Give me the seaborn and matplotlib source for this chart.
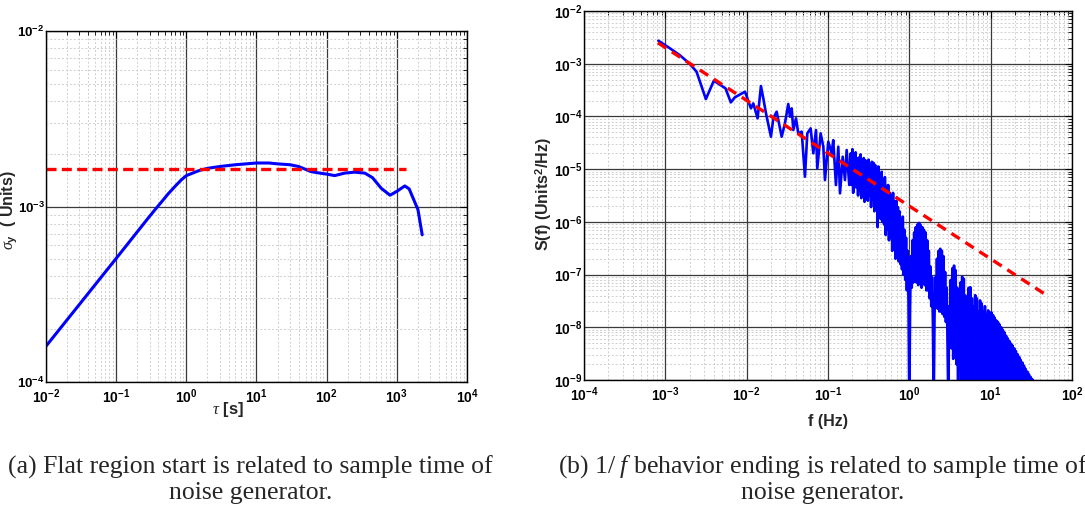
import numpy as np
import matplotlib
matplotlib.use("Agg")
import matplotlib.pyplot as plt
import seaborn as sns
from matplotlib.ticker import LogLocator, LogFormatterSciNotation, NullFormatter

# ---------------- data: panel (a) Allan deviation ----------------
tau_s = [0.01, 0.1, 0.3, 0.37, 0.45, 0.55, 0.7, 0.85, 1.0, 1.5, 2, 3, 5, 10, 15, 20,
         30, 40, 60, 80, 100, 130, 180, 250, 350, 450, 600, 800, 1000, 1300, 1500,
         2000, 2300]
sigma_y = [1.6e-4, 5.06e-4, 8.8e-4, 9.75e-4, 1.07e-3, 1.18e-3, 1.31e-3, 1.42e-3,
           1.50e-3, 1.60e-3, 1.65e-3, 1.69e-3, 1.73e-3, 1.77e-3, 1.77e-3, 1.75e-3,
           1.73e-3, 1.69e-3, 1.58e-3, 1.55e-3, 1.53e-3, 1.50e-3, 1.55e-3, 1.57e-3,
           1.55e-3, 1.46e-3, 1.27e-3, 1.16e-3, 1.22e-3, 1.31e-3, 1.26e-3, 9.6e-4, 6.9e-4]
flat_tau = [0.01, 1360]
flat_sigma = [1.63e-3, 1.63e-3]

# ---------------- data: panel (b) power spectral density ----------------
# low-frequency part: (log10 f, log10 S)
logf_low = [-3.086, -2.95, -2.82, -2.70, -2.616, -2.501, -2.403, -2.260, -2.194,
            -2.145, -2.041, -2.020, -1.947, -1.918, -1.865, -1.824, -1.795, -1.762,
            -1.701, -1.672, -1.631, -1.569, -1.529, -1.488, -1.467, -1.446, -1.426,
            -1.393, -1.365, -1.323, -1.283, -1.254, -1.213, -1.180, -1.147, -1.131,
            -1.090, -1.057, -1.037, -0.996, -0.955, -0.935, -0.902, -0.873, -0.852,
            -0.819, -0.791, -0.770, -0.738]
logS_low = [-2.563, -2.70, -2.84, -3.00, -3.151, -3.670, -3.322, -3.467, -3.733,
            -3.638, -3.550, -3.531, -3.847, -3.752, -4.036, -3.423, -3.657, -3.941,
            -4.384, -4.036, -3.910, -4.384, -4.131, -3.764, -4.005, -3.847, -4.258,
            -4.036, -4.321, -4.289, -5.143, -4.321, -4.226, -4.700, -4.258, -4.985,
            -4.321, -4.574, -5.206, -4.479, -4.700, -4.450, -5.301, -4.574, -5.459,
            -4.764, -5.206, -4.637, -5.301]
# dense part: log10 S read every 0.01 decade from log10 f = -0.72 to 1.53
logf_dense_start, logf_dense_stop = -0.72, 1.53
logS_dense = [
    -4.70, -5.30, -4.62, -5.45, -4.75, -5.20, -4.68, -5.35, -4.80, -5.50,
    -4.78, -5.40, -4.72, -5.55, -4.85, -5.35, -4.79, -5.62, -4.83, -5.45,
    -4.90, -5.60, -4.82, -5.50, -4.95, -5.72, -4.86, -5.58, -4.88, -5.80,
    -4.92, -5.75, -5.00, -6.10, -4.95, -5.85, -5.10, -5.95, -5.05, -6.00,
    -5.20, -6.05, -5.15, -6.25, -5.32, -6.15, -5.30, -6.35, -5.45, -6.30,
    -5.50, -6.55, -5.45, -6.45, -5.62, -6.70, -5.60, -6.60, -5.72, -6.75,
    -5.80, -6.80, -5.95, -6.90, -5.90, -7.00, -6.15, -7.10, -6.30, -7.30,
    -6.55, -7.50, -9.50, -7.60, -6.65, -7.25, -6.35, -7.15, -6.20, -7.10,
    -6.10, -7.15, -6.05, -7.20, -6.02, -7.10, -6.06, -7.25, -6.10, -7.15,
    -6.15, -7.20, -6.20, -7.30, -6.35, -7.30, -6.55, -7.45, -6.85, -7.60,
    -7.05, -7.90, -9.50, -7.80, -7.05, -7.60, -6.70, -7.65, -6.55, -7.70,
    -6.51, -7.70, -6.55, -7.75, -6.65, -7.80, -6.95, -7.90, -7.25, -8.30,
    -9.50, -7.60, -8.30, -7.10, -8.40, -6.88, -8.60, -6.83, -8.50, -6.92,
    -8.70, -7.25, -9.50, -7.80, -8.50, -7.15, -9.00, -7.04, -8.80, -7.08,
    -9.20, -7.40, -9.50, -7.55, -9.00, -7.25, -9.30, -7.24, -9.10, -7.45,
    -9.50, -7.60, -9.20, -7.39, -9.40, -7.45, -9.50, -7.70, -9.30, -7.49,
    -9.50, -7.55, -9.50, -7.70, -9.40, -7.60, -9.50, -7.75, -9.50, -7.68,
    -9.50, -7.72, -9.50, -7.72, -9.50, -7.77, -9.50, -7.82, -9.50, -7.87,
    -9.50, -7.90, -9.50, -7.95, -9.50, -8.00, -9.50, -8.05, -9.50, -8.10,
    -9.50, -8.16, -9.50, -8.21, -9.50, -8.26, -9.50, -8.31, -9.50, -8.35,
    -9.50, -8.40, -9.50, -8.45, -9.50, -8.51, -9.50, -8.56, -9.50, -8.62,
    -9.50, -8.67, -9.50, -8.73, -9.50, -8.79, -9.50, -8.84, -9.50, -8.89,
    -9.50, -8.94, -9.50, -8.98, -9.50, -9.02,
]
ref_f = [8.1e-4, 45.0]
ref_S = [2.5e-3, 4.4e-8]

caption_a = ["(a) Flat region start is related to sample time of", "noise generator."]
caption_b = [r"(b) $\mathdefault{1/}\;f$ behavior ending is related to sample time of",
             "noise generator."]

# ---------------- assemble ----------------
logf_dense = np.linspace(logf_dense_start, logf_dense_stop, len(logS_dense))
f_all = np.concatenate([10 ** np.array(logf_low), 10 ** logf_dense])
S_all = np.concatenate([10 ** np.array(logS_low), 10 ** np.array(logS_dense)])

sns.set_style("white")
SANS = ["Liberation Sans Narrow", "Liberation Sans", "DejaVu Sans"]
plt.rcParams["font.family"] = SANS
plt.rcParams["font.weight"] = "bold"
plt.rcParams["axes.unicode_minus"] = False
plt.rcParams["mathtext.fontset"] = "custom"
plt.rcParams["mathtext.rm"] = "Liberation Serif:weight=normal"
plt.rcParams["mathtext.it"] = "Liberation Serif:style=italic:weight=normal"
plt.rcParams["mathtext.bf"] = "Liberation Serif:weight=bold"

fig = plt.figure(figsize=(10.85, 5.12), dpi=100)
ax1 = fig.add_axes([0.0424, 0.2539, 0.3880, 0.6855])
ax2 = fig.add_axes([0.5382, 0.2578, 0.4498, 0.7207])

sns.lineplot(x=tau_s, y=sigma_y, ax=ax1, color="#0000ff", lw=2.2, sort=False, estimator=None)
sns.lineplot(x=flat_tau, y=flat_sigma, ax=ax1, color="#ff0000", lw=2.4, sort=False, estimator=None)
ax1.lines[-1].set_dashes([3.0, 1.6])

sns.lineplot(x=f_all, y=S_all, ax=ax2, color="#0000ff", lw=1.9, sort=False, estimator=None)
sns.lineplot(x=ref_f, y=ref_S, ax=ax2, color="#ff0000", lw=2.4, sort=False, estimator=None)
ax2.lines[-1].set_dashes([3.0, 2.0])


def style(ax, xlim, ylim, ylabelsize):
    ax.set_xscale("log")
    ax.set_yscale("log")
    ax.set_xlim(*xlim)
    ax.set_ylim(*ylim)
    for axis in (ax.xaxis, ax.yaxis):
        axis.set_major_locator(LogLocator(base=10, numticks=20))
        axis.set_minor_locator(LogLocator(base=10, subs=np.arange(2, 10), numticks=50))
        axis.set_major_formatter(LogFormatterSciNotation())
        axis.set_minor_formatter(NullFormatter())
    ax.grid(True, which="major", color="#3a3a3a", lw=0.9, ls="-")
    ax.grid(True, which="minor", color="#cfcfcf", lw=0.7, ls=(0, (2, 2)))
    ax.set_axisbelow(True)
    ax.tick_params(which="both", direction="in", top=True, right=True,
                   labelsize=10, colors="black")
    ax.tick_params(axis="y", labelsize=ylabelsize)
    ax.tick_params(which="major", length=5, width=0.8)
    ax.tick_params(which="minor", length=3, width=0.6)
    ax.tick_params(axis="y", pad=1)
    ax.tick_params(axis="x", pad=4)
    for sp in ax.spines.values():
        sp.set_visible(True)
        sp.set_color("black")
        sp.set_linewidth(1.0)


style(ax1, (1e-2, 1e4), (1e-4, 1e-2), 9.5)
style(ax2, (1e-4, 1e2), (1e-9, 1e-2), 10)

ax1.set_xlabel(r"$\tau$ [s]", fontsize=12, fontweight="bold")
ax1.xaxis.set_label_coords(0.432, -0.052)
ax1.set_ylabel(r"$\sigma_{\mathdefault{y}}$  ( Units)", fontsize=11.5, fontweight="bold")
ax1.yaxis.set_label_coords(-0.062, 0.49)

ax2.set_xlabel("f (Hz)", fontsize=11.5, fontweight="bold")
ax2.xaxis.set_label_coords(0.5, -0.092)
ax2.set_ylabel(r"S(f) (Units$^{\mathdefault{2}}$/Hz)", fontsize=11.5, fontweight="bold")
ax2.yaxis.set_label_coords(-0.062, 0.505)

cap_kw = dict(fontsize=18.5, fontweight="normal", ha="center", va="center",
              family=["Liberation Serif", "DejaVu Serif"])
fig.text(250 / 1085, 1 - 467 / 512, caption_a[0], **cap_kw)
fig.text(251 / 1085, 1 - 493 / 512, caption_a[1], **cap_kw)
fig.text(823 / 1085, 1 - 467 / 512, caption_b[0], **cap_kw)
fig.text(823 / 1085, 1 - 493 / 512, caption_b[1], **cap_kw)

fig.savefig("out.png", dpi=100, facecolor="white")
